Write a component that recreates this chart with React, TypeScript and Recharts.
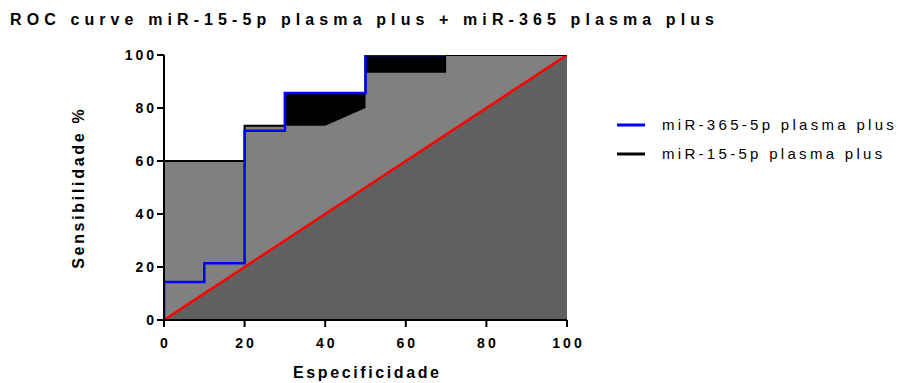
import React from 'react';
import { ComposedChart, Area, Line, XAxis, YAxis, Customized } from 'recharts';

// Axis ticks (percent)
const specificityTicks = [0, 20, 40, 60, 80, 100];
const sensitivityTicks = [0, 20, 40, 60, 80, 100];

// miR-365-5p plasma plus ROC steps
const mir365X = [0, 0, 10, 10, 20, 20, 30, 30, 50, 50, 70];
const mir365Y = [0, 14.3, 14.3, 21.4, 21.4, 71.4, 71.4, 85.7, 85.7, 100, 100];

// miR-15-5p plasma plus ROC steps
const mir15X = [0, 0, 20, 20, 30, 30, 50, 50, 100];
const mir15Y = [0, 60, 60, 73.3, 73.3, 85.7, 85.7, 100, 100];

// Combined curve (shaded area)
const combinedX = [0, 0, 20, 20, 40, 50, 50, 70, 70, 100];
const combinedY = [0, 60, 60, 73.3, 73.3, 80, 93.3, 93.3, 100, 100];

// Line of no discrimination
const chanceX = [0, 100];
const chanceY = [0, 100];

const seriesNames = ['miR-365-5p plasma plus', 'miR-15-5p plasma plus'];
const seriesColors = ['#0000ff', '#000000'];

const title = 'ROC curve miR-15-5p plasma plus + miR-365 plasma plus';
const xTitle = 'Especificidade';
const yTitle = 'Sensibilidade %';

const toPoints = (xs: number[], ys: number[]) => xs.map((x, i) => ({ x, y: ys[i] }));

const FONT = '"Liberation Sans", Arial, sans-serif';
const TICK_SPACING = 3;
const TICK_SIZE = 14;

const YTick = (props: any) => {
  const { x, y, payload } = props;
  return (
    <text x={x - 1 + TICK_SPACING} y={y} dy="0.36em" textAnchor="end" fontFamily={FONT}
      fontWeight="bold" fontSize={TICK_SIZE} letterSpacing={TICK_SPACING} fill="#000">
      {payload.value}
    </text>
  );
};

const XTick = (props: any) => {
  const { x, y, payload } = props;
  return (
    <text x={x + TICK_SPACING / 2} y={y + 14} dy="0.36em" textAnchor="middle" fontFamily={FONT}
      fontWeight="bold" fontSize={TICK_SIZE} letterSpacing={TICK_SPACING} fill="#000">
      {payload.value}
    </text>
  );
};

const Decorations = () => (
  <g>
    <text x={10} y={25} fontFamily={FONT} fontWeight="bold" fontSize={16} letterSpacing={5.1} fill="#000">
      {title}
    </text>
    <text x={366 + 1.3} y={378} textAnchor="middle" fontFamily={FONT} fontWeight="bold" fontSize={16}
      letterSpacing={2.6} fill="#000">
      {xTitle}
    </text>
    <text transform="translate(84 189) rotate(-90)" x={1.3} y={0} textAnchor="middle" fontFamily={FONT}
      fontWeight="bold" fontSize={16} letterSpacing={2.7} fill="#000">
      {yTitle}
    </text>
    {seriesNames.map((name, i) => (
      <g key={name}>
        <line x1={617} x2={645} y1={125 + i * 29} y2={125 + i * 29} stroke={seriesColors[i]} strokeWidth={3} />
        <text x={662} y={125 + i * 29} dy="0.36em" fontFamily={FONT} fontSize={15} letterSpacing={3.3} fill="#000">
          {name}
        </text>
      </g>
    ))}
  </g>
);

export default function App() {
  return (
    <div style={{ position: 'absolute', left: 0, top: 0, width: 900, height: 383, background: '#fff' }}>
      <ComposedChart width={900} height={383} margin={{ top: 55, right: 333, bottom: 23, left: 0 }}>
        <XAxis dataKey="x" type="number" domain={[0, 100]} ticks={specificityTicks} height={40}
          axisLine={{ stroke: '#000', strokeWidth: 2 }} tickLine={{ stroke: '#000', strokeWidth: 2 }}
          tickSize={7} tick={<XTick />} interval={0} allowDataOverflow />
        <YAxis dataKey="y" type="number" domain={[0, 100]} ticks={sensitivityTicks} width={164}
          axisLine={{ stroke: '#000', strokeWidth: 2 }} tickLine={{ stroke: '#000', strokeWidth: 2 }}
          tickSize={7} tick={<YTick />} interval={0} allowDataOverflow />
        <Area data={toPoints(mir15X, mir15Y)} dataKey="y" type="linear" fill="#000000" fillOpacity={1}
          stroke="none" isAnimationActive={false} dot={false} activeDot={false} />
        <Area data={toPoints(combinedX, combinedY)} dataKey="y" type="linear" fill="#808080" fillOpacity={1}
          stroke="none" isAnimationActive={false} dot={false} activeDot={false} />
        <Area data={toPoints(chanceX, chanceY)} dataKey="y" type="linear" fill="#606060" fillOpacity={1}
          stroke="none" isAnimationActive={false} dot={false} activeDot={false} />
        <Line data={toPoints(chanceX, chanceY)} dataKey="y" type="linear" stroke="#ff0000" strokeWidth={2.5}
          dot={false} activeDot={false} isAnimationActive={false} />
        <Line data={toPoints(mir15X, mir15Y)} dataKey="y" name={seriesNames[1]} type="linear" stroke="#000000"
          strokeWidth={2} dot={false} activeDot={false} isAnimationActive={false} />
        <Line data={toPoints(mir365X, mir365Y)} dataKey="y" name={seriesNames[0]} type="linear" stroke="#0000ff"
          strokeWidth={2.5} dot={false} activeDot={false} isAnimationActive={false} />
        <Customized component={Decorations} />
      </ComposedChart>
    </div>
  );
}
